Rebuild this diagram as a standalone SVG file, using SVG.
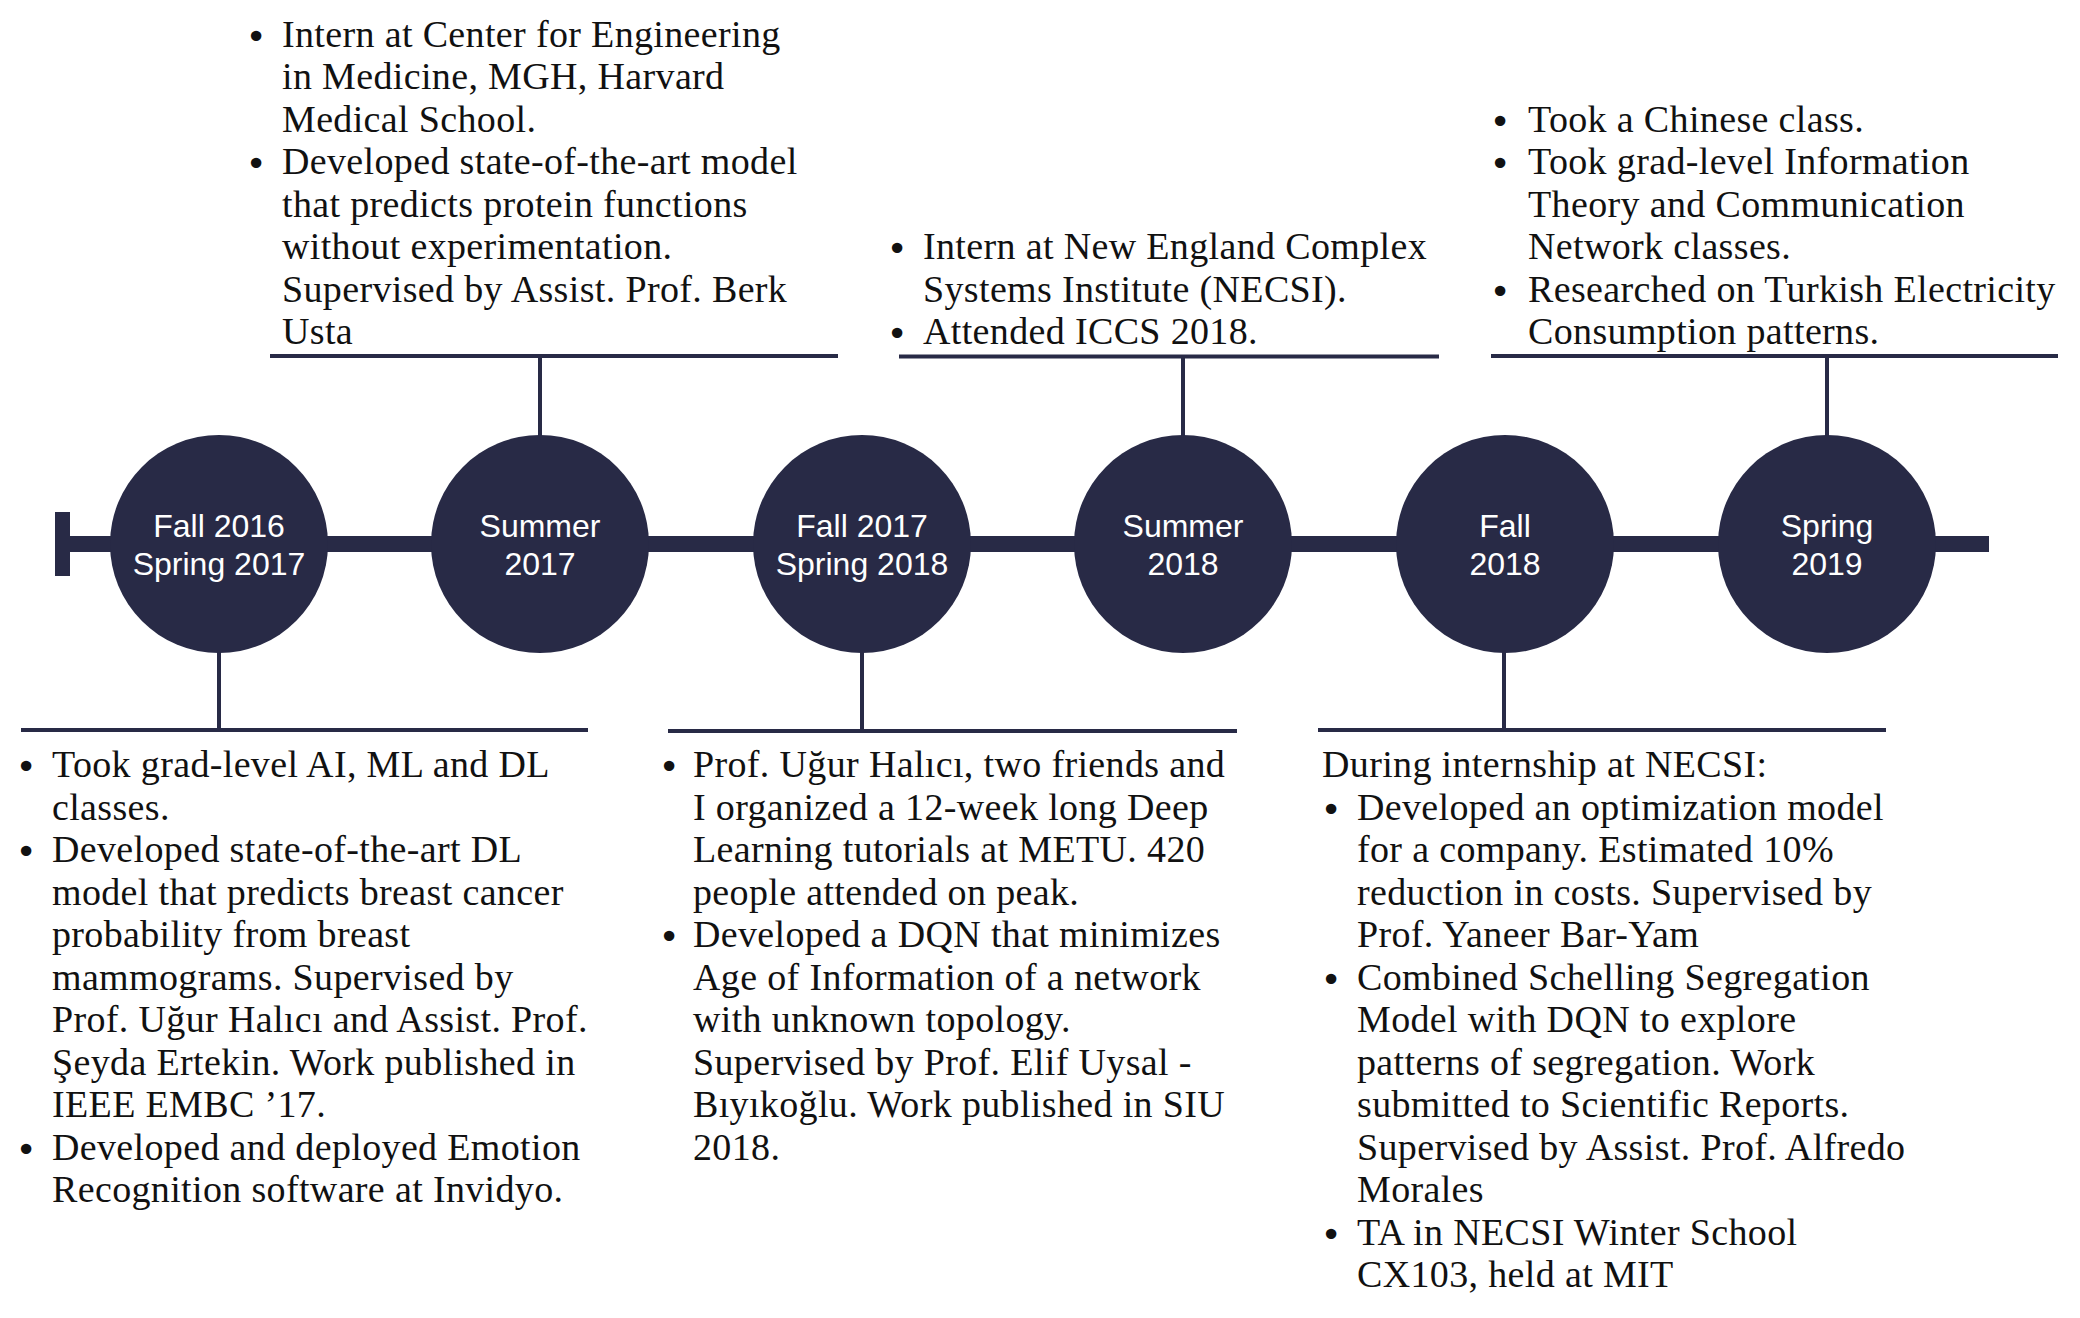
<svg xmlns="http://www.w3.org/2000/svg" width="2080" height="1318" viewBox="0 0 2080 1318">
<style>
.bg{fill:#ffffff}
.dot{fill:#282a46}
.lbl{font-family:"Liberation Sans",Arial,sans-serif;font-size:32px;fill:#ffffff;text-anchor:middle}
.note{font-family:"Liberation Serif","Times New Roman",serif;font-size:38px;letter-spacing:0.35px;fill:#111111}
.blt{font-family:"DejaVu Sans",sans-serif;font-size:36px;fill:#111111;text-anchor:middle}
.rule{stroke:#282a46;stroke-width:4;fill:none}
.bar{fill:#282a46}
</style>
<rect class="bg" x="0" y="0" width="2080" height="1318"/>
<g id="connectors">
  <rect class="bar" x="56" y="536" width="1933" height="16"/>
  <rect class="bar" x="55" y="512" width="15" height="64"/>
  <line class="rule" x1="219" y1="650" x2="219" y2="730"/>
  <line class="rule" x1="540" y1="356" x2="540" y2="440"/>
  <line class="rule" x1="862" y1="650" x2="862" y2="731"/>
  <line class="rule" x1="1183" y1="356" x2="1183" y2="440"/>
  <line class="rule" x1="1504" y1="650" x2="1504" y2="730"/>
  <line class="rule" x1="1827" y1="356" x2="1827" y2="440"/>
</g>
<g id="period-fall2016">
  <circle class="dot" cx="219" cy="544" r="109"/>
  <text class="lbl"><tspan x="219" y="537">Fall 2016</tspan><tspan x="219" y="575">Spring 2017</tspan></text>
</g>
<g id="period-summer2017">
  <circle class="dot" cx="540" cy="544" r="109"/>
  <text class="lbl"><tspan x="540" y="537">Summer</tspan><tspan x="540" y="575">2017</tspan></text>
</g>
<g id="period-fall2017">
  <circle class="dot" cx="862" cy="544" r="109"/>
  <text class="lbl"><tspan x="862" y="537">Fall 2017</tspan><tspan x="862" y="575">Spring 2018</tspan></text>
</g>
<g id="period-summer2018">
  <circle class="dot" cx="1183" cy="544" r="109"/>
  <text class="lbl"><tspan x="1183" y="537">Summer</tspan><tspan x="1183" y="575">2018</tspan></text>
</g>
<g id="period-fall2018">
  <circle class="dot" cx="1505" cy="544" r="109"/>
  <text class="lbl"><tspan x="1505" y="537">Fall</tspan><tspan x="1505" y="575">2018</tspan></text>
</g>
<g id="period-spring2019">
  <circle class="dot" cx="1827" cy="544" r="109"/>
  <text class="lbl"><tspan x="1827" y="537">Spring</tspan><tspan x="1827" y="575">2019</tspan></text>
</g>
<g id="note-fall2016">
  <line class="rule" x1="21" y1="730" x2="588" y2="730"/>
  <text class="blt"><tspan x="26" y="779">•</tspan><tspan x="26" y="864">•</tspan><tspan x="26" y="1161.5">•</tspan></text>
  <text class="note">
    <tspan x="52" y="777">Took grad-level AI, ML and DL</tspan>
    <tspan x="52" y="819.5">classes.</tspan>
    <tspan x="52" y="862">Developed state-of-the-art DL</tspan>
    <tspan x="52" y="904.5">model that predicts breast cancer</tspan>
    <tspan x="52" y="947">probability from breast</tspan>
    <tspan x="52" y="989.5">mammograms. Supervised by</tspan>
    <tspan x="52" y="1032">Prof. Uğur Halıcı and Assist. Prof.</tspan>
    <tspan x="52" y="1074.5">Şeyda Ertekin. Work published in</tspan>
    <tspan x="52" y="1117">IEEE EMBC ’17.</tspan>
    <tspan x="52" y="1159.5">Developed and deployed Emotion</tspan>
    <tspan x="52" y="1202">Recognition software at Invidyo.</tspan>
  </text>
</g>
<g id="note-summer2017">
  <line class="rule" x1="270" y1="356" x2="838" y2="356"/>
  <text class="blt"><tspan x="256" y="48.5">•</tspan><tspan x="256" y="176">•</tspan></text>
  <text class="note">
    <tspan x="282" y="46.5">Intern at Center for Engineering</tspan>
    <tspan x="282" y="89">in Medicine, MGH, Harvard</tspan>
    <tspan x="282" y="131.5">Medical School.</tspan>
    <tspan x="282" y="174">Developed state-of-the-art model</tspan>
    <tspan x="282" y="216.5">that predicts protein functions</tspan>
    <tspan x="282" y="259">without experimentation.</tspan>
    <tspan x="282" y="301.5">Supervised by Assist. Prof. Berk</tspan>
    <tspan x="282" y="344">Usta</tspan>
  </text>
</g>
<g id="note-fall2017">
  <line class="rule" x1="668" y1="731" x2="1237" y2="731"/>
  <text class="blt"><tspan x="669" y="779">•</tspan><tspan x="669" y="949">•</tspan></text>
  <text class="note">
    <tspan x="693" y="777">Prof. Uğur Halıcı, two friends and</tspan>
    <tspan x="693" y="819.5">I organized a 12-week long Deep</tspan>
    <tspan x="693" y="862">Learning tutorials at METU. 420</tspan>
    <tspan x="693" y="904.5">people attended on peak.</tspan>
    <tspan x="693" y="947">Developed a DQN that minimizes</tspan>
    <tspan x="693" y="989.5">Age of Information of a network</tspan>
    <tspan x="693" y="1032">with unknown topology.</tspan>
    <tspan x="693" y="1074.5">Supervised by Prof. Elif Uysal -</tspan>
    <tspan x="693" y="1117">Bıyıkoğlu. Work published in SIU</tspan>
    <tspan x="693" y="1159.5">2018.</tspan>
  </text>
</g>
<g id="note-summer2018">
  <line class="rule" x1="899" y1="356.5" x2="1439" y2="356.5"/>
  <text class="blt"><tspan x="897" y="261">•</tspan><tspan x="897" y="346">•</tspan></text>
  <text class="note">
    <tspan x="923" y="259">Intern at New England Complex</tspan>
    <tspan x="923" y="301.5">Systems Institute (NECSI).</tspan>
    <tspan x="923" y="344">Attended ICCS 2018.</tspan>
  </text>
</g>
<g id="note-fall2018">
  <line class="rule" x1="1318" y1="730" x2="1886" y2="730"/>
  <text class="blt"><tspan x="1331" y="821.5">•</tspan><tspan x="1331" y="991.5">•</tspan><tspan x="1331" y="1246.5">•</tspan></text>
  <text class="note">
    <tspan x="1322" y="777">During internship at NECSI:</tspan>
    <tspan x="1357" y="819.5">Developed an optimization model</tspan>
    <tspan x="1357" y="862">for a company. Estimated 10%</tspan>
    <tspan x="1357" y="904.5">reduction in costs. Supervised by</tspan>
    <tspan x="1357" y="947">Prof. Yaneer Bar-Yam</tspan>
    <tspan x="1357" y="989.5">Combined Schelling Segregation</tspan>
    <tspan x="1357" y="1032">Model with DQN to explore</tspan>
    <tspan x="1357" y="1074.5">patterns of segregation. Work</tspan>
    <tspan x="1357" y="1117">submitted to Scientific Reports.</tspan>
    <tspan x="1357" y="1159.5">Supervised by Assist. Prof. Alfredo</tspan>
    <tspan x="1357" y="1202">Morales</tspan>
    <tspan x="1357" y="1244.5">TA in NECSI Winter School</tspan>
    <tspan x="1357" y="1287">CX103, held at MIT</tspan>
  </text>
</g>
<g id="note-spring2019">
  <line class="rule" x1="1491" y1="356" x2="2058" y2="356"/>
  <text class="blt"><tspan x="1500" y="133.5">•</tspan><tspan x="1500" y="176">•</tspan><tspan x="1500" y="303.5">•</tspan></text>
  <text class="note">
    <tspan x="1528" y="131.5">Took a Chinese class.</tspan>
    <tspan x="1528" y="174">Took grad-level Information</tspan>
    <tspan x="1528" y="216.5">Theory and Communication</tspan>
    <tspan x="1528" y="259">Network classes.</tspan>
    <tspan x="1528" y="301.5">Researched on Turkish Electricity</tspan>
    <tspan x="1528" y="344">Consumption patterns.</tspan>
  </text>
</g>
</svg>
